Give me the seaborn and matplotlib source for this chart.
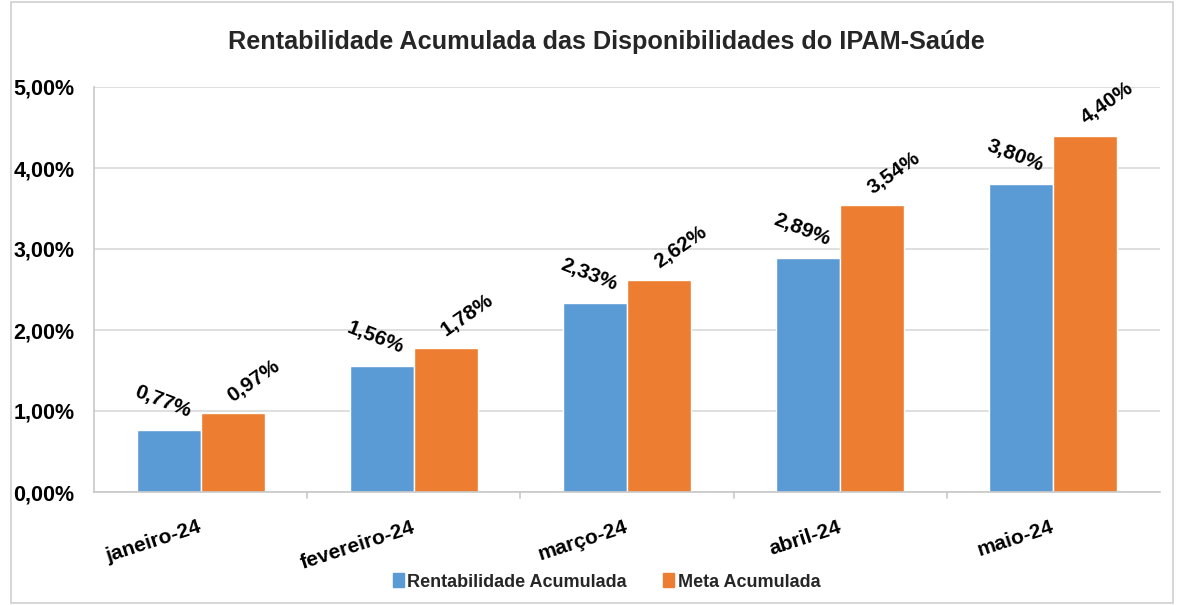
import matplotlib.pyplot as plt
import seaborn as sns
import pandas as pd
from matplotlib.patches import Rectangle

# Data
meses = ['janeiro-24', 'fevereiro-24', 'março-24', 'abril-24', 'maio-24']
rentabilidade = [0.77, 1.56, 2.33, 2.89, 3.80]
meta = [0.97, 1.78, 2.62, 3.54, 4.40]
series = ['Rentabilidade Acumulada', 'Meta Acumulada']

df = pd.DataFrame({
    'mes': meses * 2,
    'valor': rentabilidade + meta,
    'serie': [series[0]] * len(meses) + [series[1]] * len(meses),
})

sns.set_theme(style='white')
plt.rcParams['font.family'] = ['Liberation Sans', 'DejaVu Sans']

fig = plt.figure(figsize=(11.8, 6.05), dpi=100)
ax = fig.add_axes([94 / 1180, 113 / 605, 1066 / 1180, 405 / 605])

palette = {series[0]: '#5B9BD5', series[1]: '#ED7D31'}
sns.barplot(data=df, x='mes', y='valor', hue='serie', palette=palette,
            width=0.6, gap=0, saturation=1, ax=ax, legend=False)

ax.set_ylim(0, 5)
ax.set_xlim(-0.5, 4.5)
ax.set_yticks([0, 1, 2, 3, 4, 5])
ax.set_yticklabels(['{:.2f}%'.format(v).replace('.', ',') for v in range(6)],
                   fontsize=15.5, fontweight='bold', color='black')
ax.set_xticks(range(len(meses)))
ax.set_xticklabels(meses, fontsize=15, fontweight='bold', rotation=18,
                   ha='right', va='center', rotation_mode='anchor', color='black')
ax.tick_params(axis='x', length=0, pad=25)
ax.tick_params(axis='y', length=0, pad=14)
ax.set_xlabel('')
ax.set_ylabel('')

# grid + axis lines
ax.yaxis.grid(True, color='#d9d9d9', linewidth=1.2)
ax.set_axisbelow(True)
for s in ['top', 'right']:
    ax.spines[s].set_visible(False)
for s in ['left', 'bottom']:
    ax.spines[s].set_color('#c8c8c8')
    ax.spines[s].set_linewidth(1.2)
for xb in [0.5, 1.5, 2.5, 3.5]:
    ax.plot([xb, xb], [0, -0.08], color='#c8c8c8', lw=1.2, clip_on=False)

# value labels: blue tilted down, orange tilted up
label_style = [(-21, -0.03, 0.35), (35, 0.1, 0.40)]
for cont, (rot, dx, dy) in zip(ax.containers, label_style):
    for bar in cont:
        h = bar.get_height()
        txt = '{:.2f}%'.format(h).replace('.', ',')
        cx = bar.get_x() + bar.get_width() / 2
        ax.text(cx + dx, h + dy, txt, rotation=rot, ha='center', va='center',
                fontsize=15, fontweight='bold', color='black',
                rotation_mode='anchor')

fig.suptitle('Rentabilidade Acumulada das Disponibilidades do IPAM-Saúde',
             x=0.514, y=0.93, va='center', fontsize=18.2, fontweight='bold')

# legend
handles = [Rectangle((0, 0), 1, 1, color=palette[s]) for s in series]
fig.legend(handles, series, loc='center', bbox_to_anchor=(0.514, 0.038),
           ncol=2, frameon=False, prop={'weight': 'bold', 'size': 13},
           handlelength=0.6, handleheight=0.8, handletextpad=0.2,
           columnspacing=2.0)

# outer border
fig.patches.append(Rectangle((0.009, 0.003), 0.985, 0.994, transform=fig.transFigure,
                             fill=False, edgecolor='#d0d0d0', lw=1.2))

fig.savefig('out.png', dpi=100)
